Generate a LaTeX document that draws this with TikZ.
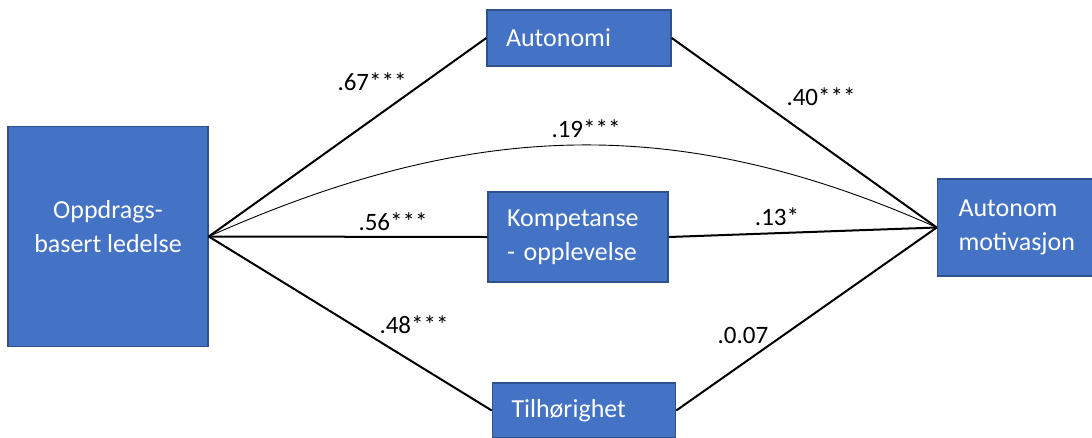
\documentclass[tikz,border=0pt]{standalone}
\usepackage{fontspec}
\setmainfont{Carlito}
\definecolor{boxfill}{HTML}{4472C4}
\definecolor{boxedge}{HTML}{2F528F}
\tikzset{
    varbox/.style={draw=boxedge, fill=boxfill, line width=1.5pt, text=white,
        inner xsep=19pt, inner ysep=0pt, align=left,
        font=\fontsize{26}{34}\selectfont},
    coef/.style={font=\fontsize{25}{30}\selectfont, inner sep=0pt},
    path/.style={line width=2pt, black}
}

\begin{document}
\begin{tikzpicture}[x=1pt, y=-1pt]
        \useasboundingbox (0,0) rectangle (1092,437);
        % boxes
        \node[varbox, align=center, minimum width=200, minimum height=220, inner xsep=0pt]
            (lead) at (108,236.5) {Oppdrags-\\basert ledelse\rule[-20pt]{0pt}{0pt}};
        \node[varbox, text width=146, minimum height=56] (aut) at (579,38) {Autonomi};
        \node[varbox, text width=142, minimum height=90] (komp) at (578,237)
            {Kompetanse\\- opplevelse};
        \node[varbox, text width=145, minimum height=55] (tilh) at (584,410.5) {Tilhørighet};
        \node[varbox, text width=115, minimum height=97, inner xsep=21pt] (motiv) at (1016,227.5)
            {Autonom\\motivasjon};
        % paths
        \draw[path] (lead.east) -- (aut.west);
        \draw[path] (lead.east) -- (komp.west);
        \draw[path] (lead.east) -- (tilh.west);
        \draw[path] (aut.east) -- (motiv.west);
        \draw[path] (komp.east) -- (motiv.west);
        \draw[path] (tilh.east) -- (motiv.west);
        \draw[line width=0.9pt] (lead.east) to[out=24,in=156] (motiv.west);
        % coefficients
        \node[coef] (c67) at (372,82) {.67***};
        \node[coef] (c40) at (821,97) {.40***};
        \node[coef] (c19) at (586,129) {.19***};
        \node[coef] (c56) at (393,222) {.56***};
        \node[coef] (c13) at (777,217) {.13*};
        \node[coef] (c48) at (414,325) {.48***};
        \node[coef] (c07) at (743,335) {.0.07};
\end{tikzpicture}
\end{document}
